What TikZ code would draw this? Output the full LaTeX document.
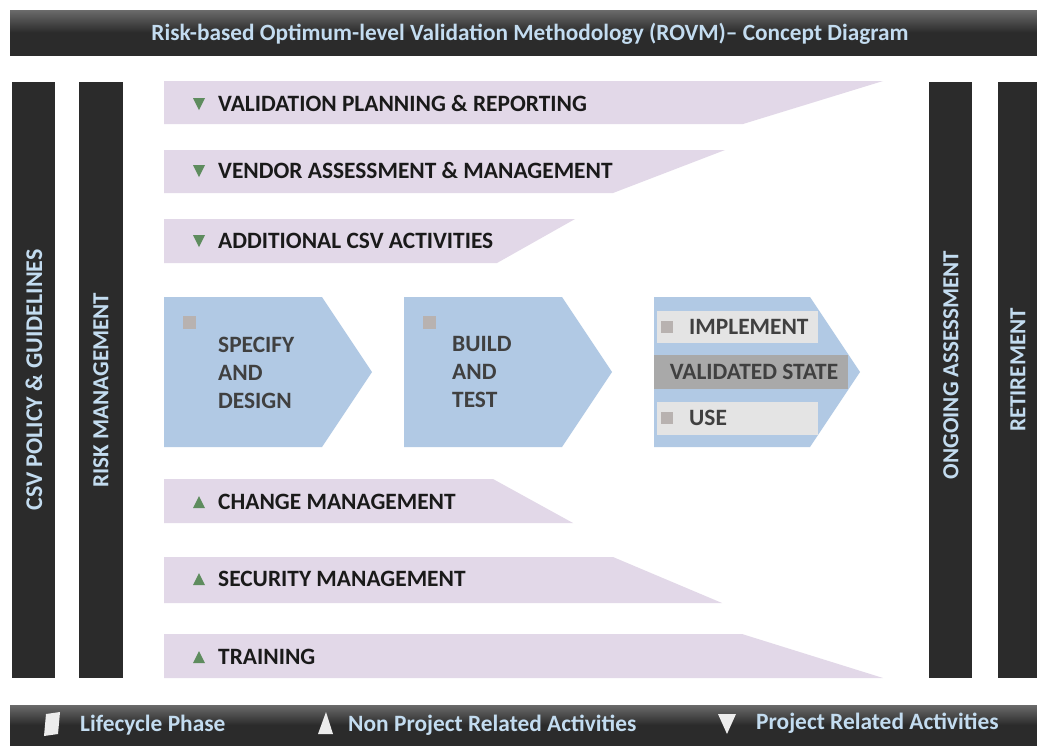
\documentclass[tikz,border=0pt]{standalone}
\usepackage{fontspec}
\setmainfont{Carlito}
\definecolor{barc}{HTML}{2B2B2B}
\definecolor{bartext}{HTML}{C3DCF0}
\definecolor{bandc}{HTML}{E2D8E8}
\definecolor{chevc}{HTML}{B1C9E4}
\definecolor{txtc}{HTML}{1A1A1A}
\definecolor{chevtxt}{HTML}{404040}
\definecolor{lboxc}{HTML}{E4E4E4}
\definecolor{vboxc}{HTML}{A9A9A9}
\definecolor{markc}{HTML}{5E8C5E}
\definecolor{sqc}{HTML}{B8B2B0}
\begin{document}
\begin{tikzpicture}[x=1pt,y=-1pt,
  bandtext/.style={anchor=west,inner sep=0pt,font=\fontsize{23.4}{23.4}\selectfont\bfseries,text=txtc},
  chevtext/.style={anchor=west,inner sep=0pt,font=\fontsize{23.4}{23.4}\selectfont\bfseries,text=chevtxt},
  vtext/.style={rotate=90,inner sep=0pt,font=\fontsize{23}{23}\selectfont\bfseries,text=bartext},
  legtext/.style={anchor=west,inner sep=0pt,font=\fontsize{23.4}{23.4}\selectfont\bfseries,text=bartext},
  darkbar/.style={fill=barc},
  sq/.style={fill=sqc}]
\useasboundingbox (0,0) rectangle (1037,745);
\fill[white] (0,0) rectangle (1037,745);
% title bar
\shade[top color=barc!70!white, bottom color=barc, middle color=barc] (10,10) rectangle (1037,55);
\node[inner sep=0pt,font=\fontsize{23.3}{23.3}\selectfont\bfseries,text=bartext] (title) at (530,34) {Risk-based Optimum-level Validation Methodology (ROVM)– Concept Diagram};
% vertical bars
\fill[darkbar] (12,82) rectangle (55,678);
\fill[darkbar] (79,82) rectangle (123,678);
\fill[darkbar] (929,82) rectangle (972,678);
\fill[darkbar] (998,82) rectangle (1037,678);
\node[vtext,font=\fontsize{24}{24}\selectfont\bfseries] (policy) at (34,380) {CSV POLICY \& GUIDELINES};
\node[vtext] (risk) at (101,390) {RISK MANAGEMENT};
\node[vtext] (ongoing) at (951,365) {ONGOING ASSESSMENT};
\node[vtext] (retire) at (1018,370) {RETIREMENT};
% purple bands
\fill[bandc] (164,81) -- (883,81) -- (743,124) -- (164,124) -- cycle;
\fill[bandc] (164,150) -- (725,150) -- (613,193) -- (164,193) -- cycle;
\fill[bandc] (164,219) -- (575,219) -- (497,263) -- (164,263) -- cycle;
\fill[bandc] (164,479) -- (493,479) -- (573,523) -- (164,523) -- cycle;
\fill[bandc] (164,557) -- (613,557) -- (722,603) -- (164,603) -- cycle;
\fill[bandc] (164,634) -- (742,634) -- (883,678) -- (164,678) -- cycle;
% markers
\foreach \y in {104,171,241} \fill[markc] (193,\y-6) -- (205,\y-6) -- (199,\y+6) -- cycle;
\foreach \y in {502,579,657} \fill[markc] (193,\y+6) -- (205,\y+6) -- (199,\y-6) -- cycle;
\node[bandtext] (vpr) at (218,104) {VALIDATION PLANNING \& REPORTING};
\node[bandtext] (vam) at (218,171) {VENDOR ASSESSMENT \& MANAGEMENT};
\node[bandtext] (acsv) at (218,241) {ADDITIONAL CSV ACTIVITIES};
\node[bandtext] (chg) at (218,502) {CHANGE MANAGEMENT};
\node[bandtext] (sec) at (218,579) {SECURITY MANAGEMENT};
\node[bandtext] (trn) at (218,657) {TRAINING};
% chevrons
\fill[chevc] (164,297) -- (322,297) -- (372,372) -- (322,447) -- (164,447) -- cycle;
\fill[chevc] (404,297) -- (562,297) -- (612,372) -- (562,447) -- (404,447) -- cycle;
\fill[chevc] (654,297) -- (810,297) -- (860,372) -- (810,447) -- (654,447) -- cycle;
\fill[sq] (183,316) rectangle (196,329);
\fill[sq] (423,316) rectangle (436,329);
\node[chevtext] (spec1) at (218,345) {SPECIFY};
\node[chevtext] (spec2) at (218,373) {AND};
\node[chevtext] (spec3) at (218,401) {DESIGN};
\node[chevtext] (build1) at (452,344) {BUILD};
\node[chevtext] (build2) at (452,372) {AND};
\node[chevtext] (build3) at (452,400) {TEST};
\fill[lboxc] (657,311) rectangle (818,343);
\fill[vboxc] (654,355) rectangle (848,389);
\fill[lboxc] (657,402) rectangle (818,435);
\fill[sq] (661,321) rectangle (673,333);
\fill[sq] (661,412) rectangle (673,424);
\node[chevtext] (impl) at (689,327) {IMPLEMENT};
\node[chevtext,anchor=center] (vstate) at (754,372) {VALIDATED STATE};
\node[chevtext] (use) at (689,418) {USE};
% bottom legend bar
\shade[top color=barc!70!white, bottom color=barc, middle color=barc] (10,705) rectangle (1037,745);
\fill[white!85!gray] (46,714) -- (60,712) -- (58,734) -- (44,736) -- cycle;
\fill[white!85!gray] (318,734) -- (326,712) -- (333,734) -- cycle;
\fill[white!85!gray] (718,714) -- (736,714) -- (727,734) -- cycle;
\node[legtext] (lp) at (80,725) {Lifecycle Phase};
\node[legtext] (npr) at (348,725) {Non Project Related Activities};
\node[legtext] (pra) at (756,723) {Project Related Activities};
\end{tikzpicture}
\end{document}
